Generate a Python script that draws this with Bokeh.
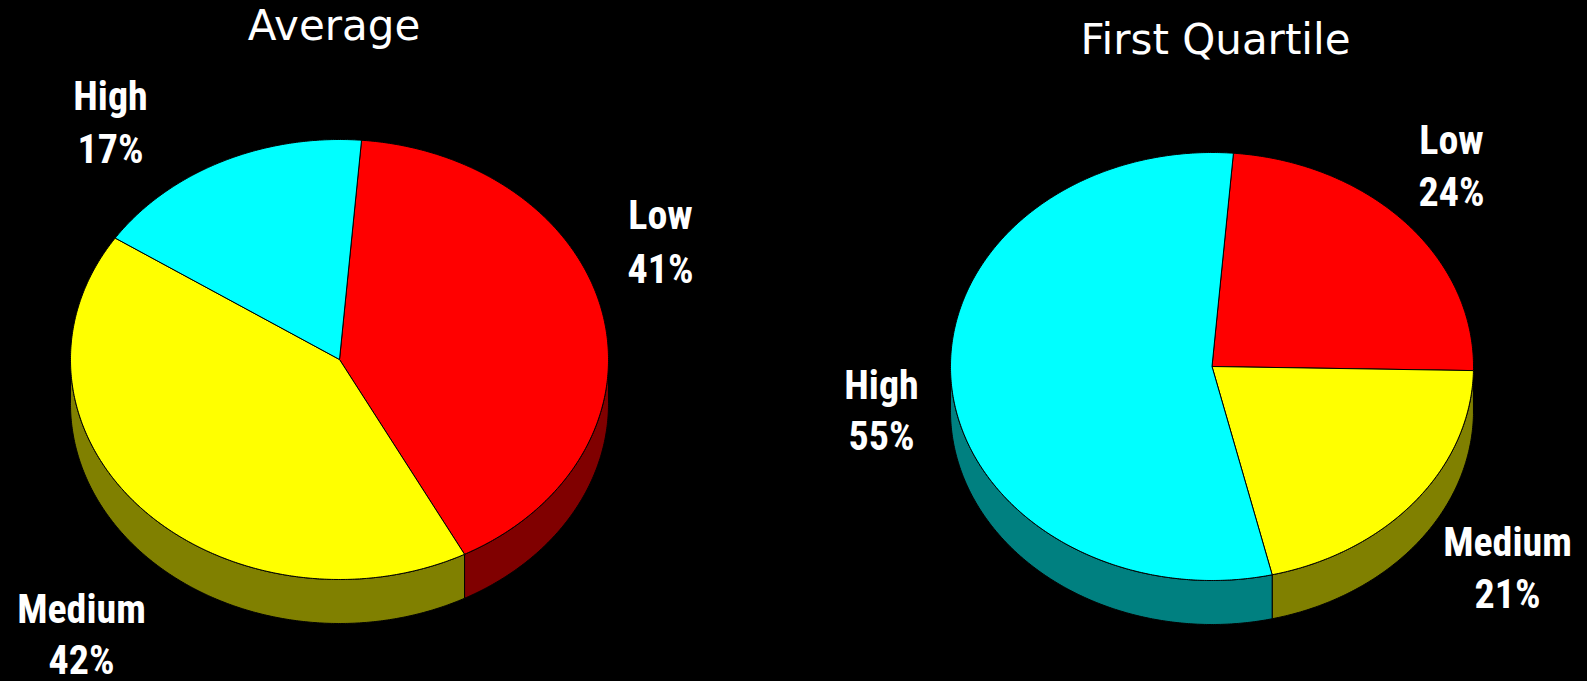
import numpy as np
from bokeh.plotting import figure
from bokeh.models import Range1d, ColumnDataSource
from bokeh.embed import file_html
from bokeh.resources import INLINE
from bokeh.core.properties import value

# ---------------- data ----------------
categories = ["Low", "Medium", "High"]
average_pct = [41, 42, 17]
first_quartile_pct = [24, 21, 55]
titles = ["Average", "First Quartile"]

# ---------------- styles / layout ----------------
top_colors = ["#FF0000", "#FFFF00", "#00FFFF"]
side_colors = ["#800000", "#808000", "#008080"]
START_DEG = 4.7  # first slice boundary, clockwise from 12 o'clock
TEXT_SHIFT = 16.0  # empirical baseline correction
PAD = 2  # page is shifted by PAD px up-left to hide an edge artefact

pies = [
    dict(values=average_pct, cx=337.0, cy=357.0, rx=269.0, ry=220.0, depth=44.0,
         title_x=331.5, title_y=39.0,
         label_x=[658, 79, 108], label_y1=[229, 623, 110], label_y2=[283, 674, 163]),
    dict(values=first_quartile_pct, cx=1209.5, cy=364.0, rx=261.5, ry=214.0, depth=44.0,
         title_x=1213.0, title_y=53.0,
         label_x=[1449, 1505, 879], label_y1=[154, 556, 399], label_y2=[206, 608, 450]),
]

W, H = 1587, 681
p = figure(width=W + PAD, height=H + PAD, output_backend="svg", toolbar_location=None,
           x_range=Range1d(-PAD, W), y_range=Range1d(H, -PAD), min_border=0)
p.axis.visible = False
p.grid.visible = False
p.outline_line_color = None
p.background_fill_color = "black"
p.border_fill_color = "black"


def arc(cx, cy, rx, ry, a0, a1, n=None):
    if n is None:
        n = max(2, int(abs(a1 - a0) * 2) + 2)
    t = np.radians(np.linspace(a0, a1, n))
    return cx + rx * np.sin(t), cy - ry * np.cos(t)


side_xs, side_ys, side_c = [], [], []
top_xs, top_ys, top_c = [], [], []
for pie in pies:
    vals = np.array(pie["values"], dtype=float)
    total = vals.sum()
    bounds = START_DEG + np.concatenate([[0], np.cumsum(vals) / total * 360.0])
    cx, cy, rx, ry, d = pie["cx"], pie["cy"], pie["rx"], pie["ry"], pie["depth"]
    for i in range(len(vals)):
        a0, a1 = bounds[i], bounds[i + 1]
        # visible front wall: parametric angles between 90 and 270 deg
        for lo, hi in [(90, 270), (450, 630)]:
            s0, s1 = max(a0, lo), min(a1, hi)
            if s1 > s0:
                ax, ay = arc(cx, cy, rx, ry, s0, s1)
                side_xs.append(list(np.concatenate([ax, ax[::-1]])))
                side_ys.append(list(np.concatenate([ay, (ay + d)[::-1]])))
                side_c.append(side_colors[i])
        ax, ay = arc(cx, cy, rx, ry, a0, a1)
        top_xs.append([cx] + list(ax))
        top_ys.append([cy] + list(ay))
        top_c.append(top_colors[i])

p.patches("xs", "ys", fill_color="c", line_color="black", line_width=1,
          source=ColumnDataSource(dict(xs=side_xs, ys=side_ys, c=side_c)))
p.patches("xs", "ys", fill_color="c", line_color="black", line_width=1,
          source=ColumnDataSource(dict(xs=top_xs, ys=top_ys, c=top_c)))

# labels
lab_font = value("Roboto Condensed, Noto Sans Condensed, DejaVu Sans Condensed, "
                 "Liberation Sans Narrow, Arial Narrow, Roboto, sans-serif")
for pie in pies:
    names = categories
    pcts = [f"{v}%" for v in pie["values"]]
    y1 = [v - TEXT_SHIFT for v in pie["label_y1"]]
    y2 = [v - TEXT_SHIFT for v in pie["label_y2"]]
    p.text(x=pie["label_x"], y=y1, text=names, text_color="white",
           text_font=lab_font, text_font_size="40px", text_font_style="bold",
           text_align="center", text_baseline="alphabetic")
    p.text(x=pie["label_x"], y=y2, text=pcts, text_color="white",
           text_font=lab_font, text_font_size="40px", text_font_style="bold",
           text_align="center", text_baseline="alphabetic")

# titles
p.text(x=[pies[0]["title_x"], pies[1]["title_x"]],
       y=[pies[0]["title_y"] - TEXT_SHIFT, pies[1]["title_y"] - TEXT_SHIFT],
       text=titles, text_color="white", text_font=value("DejaVu Sans"),
       text_font_size="42px", text_align="center", text_baseline="alphabetic")

html = file_html(p, INLINE)
html = html.replace("<html", '<html style="background:#000000;"', 1)
html = html.replace("<body>", '<body style="margin:0;background:#000000;position:absolute;'
                              'top:-%dpx;left:-%dpx;">' % (PAD, PAD), 1)
open("out.html", "w").write(html)
